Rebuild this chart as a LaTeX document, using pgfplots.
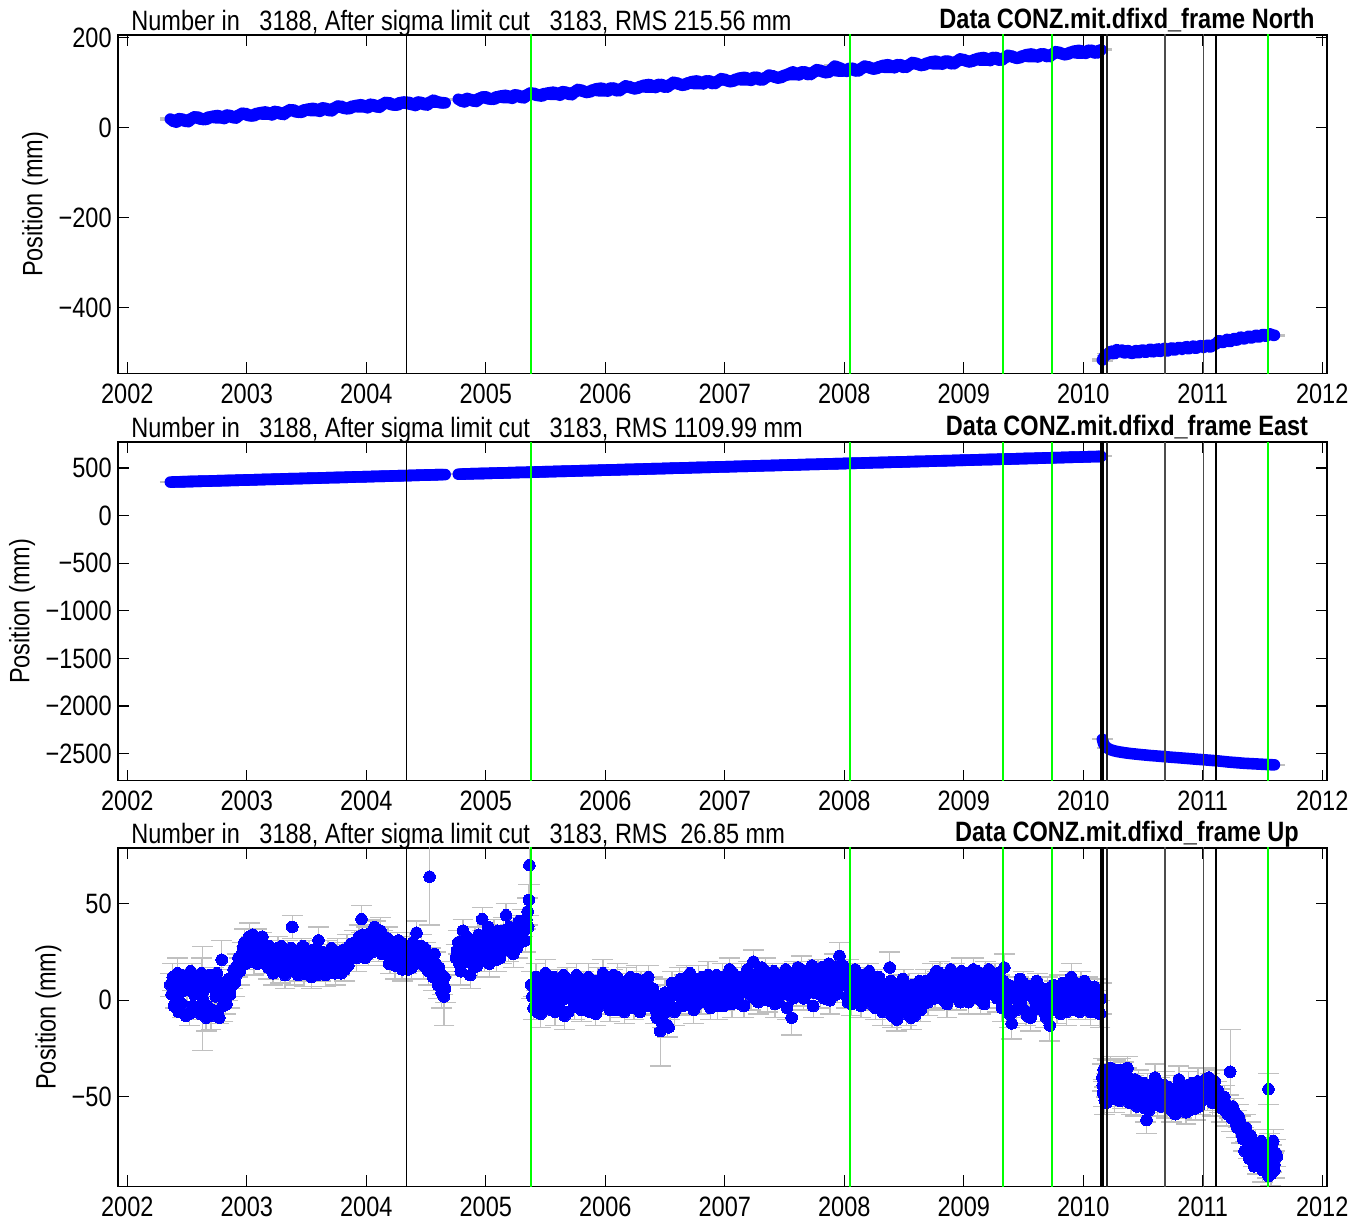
\documentclass[border=0pt]{standalone}
\usepackage{fontspec}
\setmainfont{Liberation Sans}[FakeStretch=0.84]
\usepackage{pgfplots}
\usepackage{pgfplotstable}
\pgfplotsset{compat=1.18}
\definecolor{ebgray}{RGB}{192,192,192}
\definecolor{dotblue}{RGB}{0,0,255}
\definecolor{vgreen}{RGB}{0,255,0}
\newcommand{\fs}{\fontsize{14}{16}\selectfont}

\pgfplotstableread{
t n e
2002.36 19 352
2002.41 12 354
2002.46 19 355
2002.51 13 358
2002.56 24 359
2002.61 19 361
2002.66 18 362
2002.71 25 364
2002.76 27 366
2002.81 20 367
2002.86 27 369
2002.91 21 371
2002.96 32 373
2003.01 27 374
2003.06 26 376
2003.11 33 378
2003.16 35 380
2003.21 28 381
2003.26 35 383
2003.31 29 385
2003.36 40 387
2003.41 35 388
2003.46 34 390
2003.51 41 392
2003.56 43 393
2003.61 36 395
2003.66 43 397
2003.71 37 399
2003.76 48 400
2003.81 43 402
2003.86 42 404
2003.91 49 406
2003.96 51 407
2004.01 44 409
2004.06 51 411
2004.11 45 413
2004.16 56 414
2004.21 51 416
2004.26 50 418
2004.31 57 419
2004.36 56 421
2004.41 49 423
2004.46 56 425
2004.51 50 426
2004.56 61 428
2004.61 56 430
2004.66 55 431
}\NEpreA

\pgfplotstableread{
t n e
2002.385 14 353
2002.435 20 355
2002.485 14 356
2002.535 20 358
2002.585 24 360
2002.635 18 362
2002.685 24 363
2002.735 22 365
2002.785 22 367
2002.835 28 369
2002.885 22 370
2002.935 28 372
2002.985 32 374
2003.035 26 375
2003.085 32 377
2003.135 30 379
2003.185 30 381
2003.235 36 382
2003.285 30 384
2003.335 36 386
2003.385 40 388
2003.435 34 389
2003.485 40 391
2003.535 38 393
2003.585 38 394
2003.635 44 396
2003.685 38 398
2003.735 44 400
2003.785 48 401
2003.835 42 403
2003.885 48 405
2003.935 46 407
2003.985 46 408
2004.035 52 410
2004.085 46 412
2004.135 52 413
2004.185 56 415
2004.235 50 417
2004.285 56 419
2004.335 54 420
2004.385 51 422
2004.435 57 424
2004.485 51 426
2004.535 57 427
2004.585 57 429
2004.635 55 431
}\NEmidA

\pgfplotstableread{
t n e
2004.77 63 435
2004.82 57 437
2004.87 63 439
2004.92 58 441
2004.97 68 442
2005.02 64 444
2005.07 63 446
2005.12 70 447
2005.17 72 449
2005.22 65 451
2005.27 72 453
2005.32 66 454
2005.37 77 456
2005.42 72 458
2005.47 70 459
2005.52 77 461
2005.57 79 463
2005.62 72 465
2005.67 79 466
2005.72 73 468
2005.77 85 470
2005.82 80 472
2005.87 79 473
2005.92 86 475
2005.97 88 477
2006.02 81 479
2006.07 88 480
2006.12 82 482
2006.17 93 484
2006.22 88 486
2006.27 87 487
2006.32 94 489
2006.37 96 491
2006.42 89 493
2006.47 96 494
2006.52 90 496
2006.57 101 498
2006.62 96 499
2006.67 95 501
2006.72 102 503
2006.77 104 505
2006.82 97 506
2006.87 104 508
2006.92 98 510
2006.97 109 512
2007.02 104 513
2007.07 103 515
2007.12 110 517
2007.17 112 518
2007.22 105 520
2007.27 112 522
2007.32 106 524
2007.37 117 525
2007.42 112 527
2007.47 111 529
2007.52 118 531
2007.57 124 532
2007.62 117 534
2007.67 124 536
2007.72 118 538
2007.77 129 539
2007.82 124 541
2007.87 123 543
2007.92 137 544
2007.97 132 546
2008.02 125 548
2008.07 132 550
2008.12 126 551
2008.17 137 553
2008.22 132 555
2008.27 131 557
2008.32 138 558
2008.37 140 560
2008.42 133 562
2008.47 140 563
2008.52 134 565
2008.57 145 567
2008.62 140 569
2008.67 139 570
2008.72 146 572
2008.77 148 574
2008.82 141 576
2008.87 148 577
2008.92 142 579
2008.97 153 581
2009.02 148 582
2009.07 147 584
2009.12 154 586
2009.17 156 588
2009.22 149 589
2009.27 156 591
2009.32 150 593
2009.37 161 595
2009.42 156 596
2009.47 155 598
2009.52 162 600
2009.57 164 601
2009.62 157 603
2009.67 164 605
2009.72 158 607
2009.77 169 608
2009.82 164 610
2009.87 163 612
2009.92 170 614
2009.97 172 615
2010.02 165 617
2010.07 172 619
2010.12 166 620
2010.15 173 622
}\NEpreB

\pgfplotstableread{
t n e
2004.795 59 436
2004.845 65 438
2004.895 59 440
2004.945 65 442
2004.995 69 443
2005.045 63 445
2005.095 69 447
2005.145 67 448
2005.195 67 450
2005.245 73 452
2005.295 67 454
2005.345 73 455
2005.395 77 457
2005.445 72 459
2005.495 76 461
2005.545 74 462
2005.595 74 464
2005.645 80 466
2005.695 74 467
2005.745 80 469
2005.795 84 471
2005.845 78 473
2005.895 84 474
2005.945 82 476
2005.995 82 478
2006.045 88 480
2006.095 82 481
2006.145 88 483
2006.195 92 485
2006.245 86 486
2006.295 92 488
2006.345 90 490
2006.395 90 492
2006.445 96 493
2006.495 90 495
2006.545 96 497
2006.595 100 499
2006.645 94 500
2006.695 100 502
2006.745 98 504
2006.795 98 506
2006.845 104 507
2006.895 98 509
2006.945 104 511
2006.995 108 512
2007.045 102 514
2007.095 108 516
2007.145 106 518
2007.195 106 519
2007.245 112 521
2007.295 106 523
2007.345 112 525
2007.395 116 526
2007.445 110 528
2007.495 116 530
2007.545 118 531
2007.595 118 533
2007.645 124 535
2007.695 118 537
2007.745 124 538
2007.795 128 540
2007.845 122 542
2007.895 128 544
2007.945 126 545
2007.995 126 547
2008.045 132 549
2008.095 126 550
2008.145 132 552
2008.195 136 554
2008.245 130 556
2008.295 136 557
2008.345 134 559
2008.395 134 561
2008.445 140 563
2008.495 134 564
2008.545 140 566
2008.595 144 568
2008.645 138 569
2008.695 144 571
2008.745 142 573
2008.795 142 575
2008.845 148 576
2008.895 142 578
2008.945 148 580
2008.995 152 582
2009.045 146 583
2009.095 152 585
2009.145 150 587
2009.195 150 589
2009.245 156 590
2009.295 150 592
2009.345 156 594
2009.395 160 595
2009.445 154 597
2009.495 160 599
2009.545 158 601
2009.595 158 602
2009.645 164 604
2009.695 158 606
2009.745 164 608
2009.795 168 609
2009.845 162 611
2009.895 168 613
2009.945 166 614
2009.995 166 616
2010.045 172 618
2010.095 166 620
2010.135 172 621
}\NEmidB

\pgfplotstableread{
t n e
2010.160 -517 -2350
2010.170 -512 -2395
2010.185 -506 -2425
2010.200 -505 -2440
2010.220 -500 -2455
2010.235 -497 -2462
2010.250 -502 -2468
2010.265 -503 -2473
2010.280 -494 -2477
2010.295 -499 -2481
2010.310 -498 -2484
2010.325 -495 -2487
2010.340 -501 -2490
2010.355 -501 -2493
2010.370 -496 -2495
2010.385 -497 -2498
2010.400 -502 -2500
2010.415 -502 -2502
2010.430 -497 -2504
2010.445 -496 -2506
2010.460 -501 -2508
2010.475 -500 -2510
2010.490 -495 -2512
2010.505 -495 -2514
2010.520 -500 -2515
2010.535 -499 -2517
2010.550 -494 -2519
2010.565 -493 -2521
2010.580 -499 -2522
2010.595 -498 -2524
2010.610 -494 -2525
2010.625 -492 -2527
2010.640 -498 -2528
2010.655 -497 -2530
2010.670 -492 -2531
2010.685 -491 -2533
2010.700 -497 -2534
2010.715 -496 -2536
2010.730 -491 -2537
2010.745 -490 -2539
2010.760 -495 -2540
2010.775 -494 -2542
2010.790 -490 -2543
2010.805 -489 -2545
2010.820 -493 -2546
2010.835 -493 -2548
2010.850 -489 -2549
2010.865 -487 -2551
2010.880 -492 -2552
2010.895 -491 -2554
2010.910 -487 -2555
2010.925 -486 -2557
2010.940 -491 -2558
2010.955 -490 -2560
2010.970 -486 -2561
2010.985 -485 -2563
2011.000 -489 -2564
2011.015 -489 -2566
2011.030 -485 -2567
2011.045 -484 -2569
2011.060 -488 -2570
2011.075 -487 -2572
2011.090 -483 -2573
2011.105 -482 -2575
2011.120 -479 -2576
2011.135 -474 -2578
2011.150 -475 -2580
2011.165 -478 -2582
2011.180 -477 -2584
2011.195 -472 -2586
2011.210 -471 -2588
2011.225 -476 -2590
2011.240 -475 -2591
2011.255 -470 -2593
2011.270 -469 -2594
2011.285 -473 -2596
2011.300 -471 -2597
2011.315 -466 -2599
2011.330 -467 -2600
2011.345 -470 -2602
2011.360 -469 -2603
2011.375 -465 -2604
2011.390 -464 -2605
2011.405 -468 -2606
2011.420 -467 -2607
2011.435 -463 -2608
2011.450 -462 -2609
2011.465 -466 -2610
2011.480 -465 -2611
2011.495 -461 -2612
2011.510 -460 -2613
2011.525 -464 -2614
2011.540 -463 -2615
2011.555 -459 -2616
2011.570 -459 -2617
2011.585 -462 -2618
2011.600 -462 -2618
}\NEpost

\pgfplotstableread{
t u e
2002.36 8 6
2002.38 12 7
2002.40 2 6
2002.42 14 8
2002.44 4 6
2002.46 -2 7
2002.48 10 6
2002.50 6 9
2002.52 -7 6
2002.54 12 7
2002.56 3 6
2002.58 9 7
2002.60 -4 6
2002.62 14 8
2002.63 1 27
2002.66 -9 7
2002.68 7 6
2002.70 -8 7
2002.72 11 6
2002.74 2 7
2002.76 -6 6
2002.78 9 7
2002.79 21 10
2002.80 -3 8
2002.82 0 7
2002.84 6 6
2002.86 3 7
2002.88 12 6
2002.90 9 7
2002.92 18 6
2002.94 15 7
2002.96 24 6
2002.98 30 7
2003.00 22 6
2003.02 33 7
2003.04 27 6
2003.06 20 7
2003.08 31 6
2003.10 25 7
2003.12 29 6
2003.14 21 7
2003.16 27 6
2003.18 17 6
2003.20 24 7
2003.22 14 6
2003.24 21 7
2003.26 27 6
2003.28 16 7
2003.30 22 6
2003.32 13 7
2003.34 25 6
2003.36 19 7
2003.38 38 6
2003.40 15 7
2003.42 23 6
2003.44 17 7
2003.46 26 6
2003.48 14 7
2003.50 20 6
2003.52 24 7
2003.54 12 6
2003.56 19 7
2003.58 22 6
2003.60 31 7
2003.62 16 6
2003.64 21 7
2003.66 13 6
2003.68 24 7
2003.70 18 6
2003.72 22 7
2003.74 14 6
2003.76 25 7
2003.78 19 6
2003.80 23 7
2003.82 16 6
2003.84 27 7
2003.86 21 6
2003.88 25 7
2003.90 30 6
2003.92 22 7
2003.94 33 6
2003.96 42 7
2003.98 27 6
2004.00 31 7
2004.02 24 6
2004.04 35 7
2004.06 29 6
2004.08 34 7
2004.10 26 6
2004.12 36 7
2004.14 30 6
2004.16 25 7
2004.18 32 6
2004.20 21 7
2004.22 27 6
2004.24 18 7
2004.26 29 6
2004.28 23 7
2004.30 16 6
2004.32 26 7
2004.34 20 6
2004.36 28 7
2004.38 17 6
2004.40 24 7
2004.42 35 6
2004.44 22 7
2004.46 28 6
2004.48 18 7
2004.50 24 6
2004.52 15 7
2004.53 64 25
2004.54 21 6
2004.56 12 7
2004.58 19 6
2004.60 8 7
2004.62 14 6
2004.63 4 8
2004.64 10 7
2004.65 2 15
2004.66 6 7
2004.75 22 7
2004.77 30 6
2004.79 15 7
2004.81 36 6
2004.83 20 7
2004.85 27 6
2004.87 13 7
2004.89 24 6
2004.91 31 7
2004.93 18 6
2004.95 26 7
2004.97 42 6
2004.99 22 7
2005.01 33 6
2005.03 19 7
2005.05 28 6
2005.07 35 7
2005.09 21 6
2005.11 30 7
2005.13 25 6
2005.15 36 7
2005.17 44 6
2005.19 27 7
2005.21 33 6
2005.23 24 7
2005.25 38 6
2005.27 29 7
2005.29 35 6
2005.31 40 7
2005.33 31 6
2005.35 46 7
2005.36 52 8
2005.365 70 10
2005.38 8 7
2005.40 -4 6
2005.42 12 7
2005.44 1 6
2005.46 -7 7
2005.48 6 6
2005.50 14 7
2005.52 -2 6
2005.54 9 7
2005.56 3 6
2005.58 -6 7
2005.60 10 6
2005.62 0 7
2005.64 5 6
2005.66 -8 7
2005.68 11 6
2005.70 2 7
2005.72 7 6
2005.74 -3 7
2005.76 13 6
2005.78 4 7
2005.80 -5 6
2005.82 8 7
2005.84 1 6
2005.86 12 7
2005.88 -2 6
2005.90 6 7
2005.92 -7 6
2005.94 10 7
2005.96 3 6
2005.98 14 7
2006.00 -1 6
2006.02 7 7
2006.04 -5 6
2006.06 9 7
2006.08 2 6
2006.10 12 7
2006.12 -3 6
2006.14 5 7
2006.16 -6 6
2006.18 10 7
2006.20 1 6
2006.22 7 7
2006.24 -4 6
2006.26 11 7
2006.28 3 6
2006.30 8 7
2006.32 -2 6
2006.34 5 7
2006.36 12 6
2006.38 0 7
2006.40 6 6
2006.42 -5 7
2006.44 2 6
2006.46 -16 18
2006.48 -8 6
2006.50 4 7
2006.52 -13 6
2006.54 -3 7
2006.56 9 6
2006.58 -6 7
2006.60 3 6
2006.62 10 7
2006.64 -2 6
2006.66 6 7
2006.68 12 6
2006.70 0 7
2006.72 8 6
2006.74 -5 7
2006.76 4 6
2006.78 11 7
2006.80 -1 6
2006.82 7 7
2006.84 2 6
2006.86 13 7
2006.88 -4 6
2006.90 5 7
2006.92 9 6
2006.94 -3 7
2006.96 6 6
2006.98 12 7
2007.00 1 6
2007.02 8 7
2007.04 16 6
2007.06 -2 7
2007.08 5 6
2007.10 10 7
2007.12 3 6
2007.14 12 7
2007.16 -3 6
2007.18 8 7
2007.20 14 6
2007.22 2 7
2007.24 20 6
2007.26 9 7
2007.28 -1 6
2007.30 11 7
2007.32 5 6
2007.34 15 7
2007.36 0 6
2007.38 8 7
2007.40 13 6
2007.42 -2 7
2007.44 6 6
2007.46 10 7
2007.48 3 6
2007.50 12 7
2007.52 -4 6
2007.54 7 7
2007.56 -9 9
2007.58 14 6
2007.60 4 7
2007.62 9 6
2007.64 16 7
2007.66 1 6
2007.68 10 7
2007.70 5 6
2007.72 13 7
2007.74 -3 6
2007.76 8 7
2007.78 15 6
2007.80 3 7
2007.82 11 6
2007.84 6 7
2007.86 14 6
2007.88 0 7
2007.90 9 6
2007.92 17 7
2007.94 5 6
2007.96 23 7
2007.98 12 6
2008.00 8 7
2008.02 2 6
2008.04 14 7
2008.06 -2 6
2008.08 8 7
2008.10 13 6
2008.12 4 7
2008.14 -3 6
2008.16 10 7
2008.18 6 6
2008.20 12 7
2008.22 1 6
2008.24 7 7
2008.26 -4 6
2008.28 9 7
2008.30 3 6
2008.32 -6 7
2008.34 5 6
2008.36 -1 7
2008.38 17 8
2008.40 -8 6
2008.42 2 7
2008.44 -10 6
2008.46 6 7
2008.48 -3 6
2008.50 9 7
2008.52 -7 6
2008.54 1 7
2008.56 -9 6
2008.58 4 7
2008.60 -2 6
2008.62 7 7
2008.64 -5 6
2008.66 3 7
2008.68 10 6
2008.70 -1 7
2008.72 5 6
2008.74 12 7
2008.76 1 6
2008.78 8 7
2008.80 14 6
2008.82 3 7
2008.84 9 6
2008.86 -2 7
2008.88 11 6
2008.90 6 7
2008.92 13 6
2008.94 2 7
2008.96 9 6
2008.98 15 7
2009.00 4 6
2009.02 10 7
2009.04 -1 6
2009.06 7 7
2009.08 16 6
2009.10 5 7
2009.12 11 6
2009.14 0 7
2009.16 8 7
2009.18 14 6
2009.20 3 7
2009.22 10 6
2009.24 6 7
2009.26 13 6
2009.28 1 7
2009.30 7 6
2009.32 -4 7
2009.34 17 7
2009.36 4 6
2009.38 -7 7
2009.40 -12 8
2009.42 2 6
2009.44 -5 7
2009.46 6 6
2009.48 -2 7
2009.50 9 6
2009.52 -6 7
2009.54 3 6
2009.56 -9 7
2009.58 5 6
2009.60 -1 7
2009.62 8 6
2009.64 -4 7
2009.66 2 6
2009.68 -7 7
2009.70 6 6
2009.72 -13 8
2009.74 0 7
2009.76 4 6
2009.78 -5 7
2009.80 7 6
2009.82 -2 7
2009.84 3 6
2009.86 -6 7
2009.88 9 6
2009.90 12 7
2009.92 -1 6
2009.94 5 7
2009.96 -4 6
2009.98 8 7
2010.00 1 6
2010.02 -3 7
2010.04 6 6
2010.06 -6 7
2010.08 3 6
2010.10 -2 7
2010.12 5 6
2010.14 -7 7
2010.15 1 8
2010.16 -40 7
2010.165 -48 7
2010.17 -36 6
2010.18 -52 7
2010.19 -44 6
2010.20 -38 7
2010.21 -49 6
2010.22 -42 7
2010.23 -35 6
2010.24 -47 7
2010.25 -40 6
2010.26 -51 7
2010.27 -37 6
2010.28 -45 7
2010.29 -41 6
2010.30 -48 7
2010.31 -36 6
2010.32 -43 7
2010.33 -50 6
2010.34 -39 7
2010.35 -46 6
2010.36 -42 7
2010.37 -35 6
2010.38 -48 7
2010.39 -44 6
2010.40 -52 7
2010.42 -45 6
2010.44 -53 7
2010.46 -42 6
2010.48 -50 7
2010.50 -47 6
2010.52 -56 7
2010.53 -62 7
2010.54 -44 6
2010.56 -51 7
2010.58 -48 6
2010.60 -40 7
2010.62 -54 6
2010.64 -47 7
2010.66 -52 6
2010.68 -44 7
2010.70 -55 6
2010.72 -49 7
2010.74 -57 6
2010.76 -46 7
2010.78 -53 6
2010.80 -41 7
2010.82 -55 6
2010.84 -50 7
2010.86 -58 6
2010.88 -44 7
2010.90 -52 6
2010.92 -48 7
2010.94 -56 6
2010.96 -42 7
2010.98 -53 6
2011.00 -47 7
2011.02 -41 6
2011.04 -50 7
2011.06 -44 6
2011.08 -53 7
2011.10 -42 6
2011.12 -49 7
2011.14 -52 6
2011.16 -56 7
2011.18 -50 6
2011.20 -58 7
2011.22 -55 6
2011.23 -37 22
2011.24 -61 7
2011.26 -57 6
2011.28 -64 7
2011.30 -60 6
2011.32 -67 7
2011.34 -72 6
2011.36 -66 7
2011.38 -76 6
2011.40 -70 7
2011.42 -80 6
2011.44 -74 7
2011.46 -84 6
2011.48 -78 7
2011.50 -88 6
2011.52 -81 7
2011.54 -86 6
2011.55 -46 8
2011.56 -76 7
2011.57 -90 6
2011.58 -82 7
2011.59 -73 6
2011.60 -85 7
2011.61 -79 7
}\UpT

\pgfplotstableread{
t u
2002.37 3
2002.39 -3
2002.41 9
2002.43 -6
2002.45 13
2002.47 5
2002.49 -8
2002.51 8
2002.53 15
2002.55 -3
2002.57 6
2002.59 12
2002.61 -7
2002.63 4
2002.65 10
2002.67 -3
2002.69 13
2002.71 -5
2002.73 6
2002.75 14
2002.77 -9
2002.79 4
2002.81 8
2002.83 -2
2002.85 11
2002.87 7
2002.89 16
2002.91 13
2002.93 22
2002.95 19
2002.97 27
2002.99 19
2003.01 28
2003.03 23
2003.05 34
2003.07 24
2003.09 19
2003.11 28
2003.13 33
2003.15 23
2003.17 21
2003.19 28
2003.21 19
2003.23 25
2003.25 15
2003.27 22
2003.29 28
2003.31 19
2003.33 16
2003.35 23
2003.37 27
2003.39 18
2003.41 21
2003.43 13
2003.45 22
2003.47 28
2003.49 18
2003.51 15
2003.53 21
2003.55 26
2003.57 16
2003.59 13
2003.61 20
2003.63 25
2003.65 18
2003.67 22
2003.69 14
2003.71 27
2003.73 20
2003.75 17
2003.77 22
2003.79 14
2003.81 26
2003.83 21
2003.85 18
2003.87 29
2003.89 23
2003.91 26
2003.93 31
2003.95 24
2003.97 34
2003.99 22
2004.01 28
2004.03 33
2004.05 25
2004.07 38
2004.09 31
2004.11 28
2004.13 24
2004.15 33
2004.17 27
2004.19 19
2004.21 30
2004.23 24
2004.25 22
2004.27 31
2004.29 20
2004.31 29
2004.33 23
2004.35 16
2004.37 25
2004.39 30
2004.41 19
2004.43 27
2004.45 23
2004.47 21
2004.49 27
2004.51 19
2004.55 16
2004.57 24
2004.59 13
2004.61 17
2004.63 9
2004.655 12
2004.76 26
2004.78 19
2004.80 28
2004.82 24
2004.84 33
2004.86 21
2004.88 30
2004.90 17
2004.92 27
2004.94 34
2004.96 23
2004.98 29
2005.00 25
2005.02 38
2005.04 24
2005.06 31
2005.08 27
2005.10 36
2005.12 22
2005.14 30
2005.16 34
2005.18 26
2005.20 38
2005.22 29
2005.24 33
2005.26 27
2005.28 41
2005.30 32
2005.32 36
2005.34 42
2005.355 38
2005.39 2
2005.41 9
2005.43 -6
2005.45 5
2005.47 11
2005.49 -1
2005.51 7
2005.53 3
2005.55 -5
2005.57 12
2005.59 4
2005.61 -3
2005.63 8
2005.65 13
2005.67 1
2005.69 -6
2005.71 9
2005.73 4
2005.75 -1
2005.77 6
2005.79 11
2005.81 -4
2005.83 3
2005.85 7
2005.87 -6
2005.89 10
2005.91 2
2005.93 5
2005.95 -3
2005.97 8
2005.99 4
2006.01 11
2006.03 -2
2006.05 3
2006.07 13
2006.09 -5
2006.11 6
2006.13 1
2006.15 9
2006.17 3
2006.19 -4
2006.21 12
2006.23 4
2006.25 -1
2006.27 7
2006.29 -6
2006.31 10
2006.33 2
2006.35 -3
2006.37 7
2006.39 3
2006.41 1
2006.43 -9
2006.45 -3
2006.47 -11
2006.49 1
2006.51 -6
2006.53 -14
2006.55 2
2006.57 -4
2006.59 7
2006.61 4
2006.63 11
2006.65 -3
2006.67 2
2006.69 8
2006.71 14
2006.73 3
2006.75 9
2006.77 -2
2006.79 6
2006.81 12
2006.83 0
2006.85 8
2006.87 4
2006.89 10
2006.91 -1
2006.93 13
2006.95 2
2006.97 7
2006.99 -3
2007.01 11
2007.03 4
2007.05 9
2007.07 14
2007.09 2
2007.11 8
2007.13 -2
2007.15 10
2007.17 5
2007.19 16
2007.21 7
2007.23 11
2007.25 1
2007.27 14
2007.29 6
2007.31 17
2007.33 2
2007.35 9
2007.37 12
2007.39 4
2007.41 15
2007.43 7
2007.45 -1
2007.47 11
2007.49 6
2007.51 16
2007.53 3
2007.55 9
2007.57 1
2007.59 11
2007.61 17
2007.63 5
2007.65 10
2007.67 2
2007.69 14
2007.71 8
2007.73 18
2007.75 4
2007.77 11
2007.79 7
2007.81 17
2007.83 1
2007.85 10
2007.87 19
2007.89 6
2007.91 12
2007.93 3
2007.95 15
2007.97 9
2007.99 18
2008.01 9
2008.03 -1
2008.05 11
2008.07 5
2008.09 16
2008.11 1
2008.13 9
2008.15 13
2008.17 2
2008.19 8
2008.21 15
2008.23 -2
2008.25 10
2008.27 4
2008.29 12
2008.31 1
2008.33 8
2008.35 -4
2008.37 4
2008.39 10
2008.41 -3
2008.43 6
2008.45 -7
2008.47 2
2008.49 11
2008.51 -1
2008.53 5
2008.55 -5
2008.57 8
2008.59 -8
2008.61 1
2008.63 10
2008.65 -2
2008.67 6
2008.69 2
2008.71 10
2008.73 1
2008.75 7
2008.77 15
2008.79 4
2008.81 9
2008.83 0
2008.85 12
2008.87 6
2008.89 16
2008.91 2
2008.93 8
2008.95 12
2008.97 -1
2008.99 10
2009.01 14
2009.03 5
2009.05 12
2009.07 2
2009.09 9
2009.11 15
2009.13 6
2009.15 12
2009.17 -2
2009.19 9
2009.21 16
2009.23 4
2009.25 11
2009.27 7
2009.29 14
2009.31 3
2009.33 10
2009.35 -2
2009.37 8
2009.39 1
2009.41 -6
2009.43 7
2009.45 0
2009.47 11
2009.49 -4
2009.51 4
2009.53 -8
2009.55 7
2009.57 2
2009.59 -5
2009.61 10
2009.63 1
2009.65 -3
2009.67 6
2009.69 -9
2009.71 3
2009.73 -5
2009.75 8
2009.77 -2
2009.79 2
2009.81 -7
2009.83 9
2009.85 1
2009.87 -3
2009.89 5
2009.91 -5
2009.93 9
2009.95 2
2009.97 -6
2009.99 4
2010.01 10
2010.03 -1
2010.05 3
2010.07 -4
2010.09 7
2010.11 -6
2010.13 2
2010.163 -44
2010.175 -39
2010.185 -47
2010.195 -53
2010.205 -41
2010.215 -46
2010.225 -50
2010.235 -43
2010.245 -38
2010.255 -45
2010.265 -42
2010.275 -49
2010.285 -36
2010.295 -44
2010.305 -52
2010.315 -40
2010.325 -46
2010.335 -37
2010.345 -43
2010.355 -51
2010.365 -45
2010.375 -40
2010.385 -53
2010.395 -41
2010.41 -49
2010.43 -41
2010.45 -55
2010.47 -46
2010.49 -53
2010.51 -43
2010.55 -57
2010.57 -45
2010.59 -52
2010.61 -47
2010.63 -43
2010.65 -55
2010.67 -48
2010.69 -51
2010.71 -45
2010.73 -53
2010.75 -50
2010.77 -59
2010.79 -47
2010.81 -52
2010.83 -45
2010.85 -54
2010.87 -49
2010.89 -57
2010.91 -43
2010.93 -51
2010.95 -47
2010.97 -55
2010.99 -44
2011.01 -50
2011.03 -45
2011.05 -40
2011.07 -48
2011.09 -46
2011.11 -52
2011.13 -47
2011.15 -54
2011.17 -50
2011.19 -53
2011.21 -59
2011.25 -55
2011.27 -62
2011.29 -66
2011.31 -63
2011.33 -70
2011.35 -78
2011.37 -71
2011.39 -82
2011.41 -75
2011.43 -86
2011.45 -77
2011.47 -81
2011.49 -73
2011.51 -85
2011.53 -79
2011.55 -91
2011.565 -84
2011.58 -77
2011.60 -88
2011.62 -81
}\UpB

\pgfplotsset{
  panel/.style={
    scale only axis, width=604.5pt, height=169.25pt,
    xmin=2001.922, xmax=2012.04,
    xtick={2002,2003,2004,2005,2006,2007,2008,2009,2010,2011,2012},
    xticklabels={2002,2003,2004,2005,2006,2007,2008,2009,2010,2011,2012},
    axis line style={line width=0.8pt},
    every tick/.style={black, line width=0.6pt},
    major tick length=5.5pt,
    tick align=inside,
    xticklabel style={font=\fs, inner sep=0pt, anchor=north, yshift=-5pt},
    yticklabel style={font=\fs, inner sep=0pt, anchor=east, xshift=-3pt},
    ylabel={Position (mm)},
    ylabel style={font=\fs, inner sep=5pt},
    clip=true, clip marker paths=true,
  },
  ebfix/.style={only marks, mark=*, mark size=0.2pt, mark options={fill=dotblue, draw=none},
    forget plot, each nth point=3,
    error bars/.cd, y dir=both, y fixed=#1,
    error bar style={ebgray, line width=0.7pt},
    error mark options={rotate=90, ebgray, mark size=5.2pt, line width=0.7pt}},
  ebexp/.style={only marks, mark=*, mark size=0.2pt, mark options={fill=dotblue, draw=none},
    forget plot,
    error bars/.cd, y dir=both, y explicit,
    error bar style={ebgray, line width=0.7pt},
    error mark options={rotate=90, ebgray, mark size=5.2pt, line width=0.7pt}},
  dots/.style={only marks, mark=*, mark size=2.9pt, color=dotblue,
    mark options={fill=dotblue, draw=dotblue, line width=0pt}, forget plot},
  band/.style={dotblue, line width=5.8pt, line cap=round, line join=round, mark=none, forget plot},
}
\newcommand{\vl}[3]{\addplot[#2, line width=#3, forget plot] coordinates {(#1,-3000) (#1,3000)};}
\newcommand{\eqlines}{%
  \vl{2004.340}{black}{0.5pt}
  \vl{2005.378}{vgreen}{0.9pt}
  \vl{2008.046}{vgreen}{0.9pt}
  \vl{2009.326}{vgreen}{0.9pt}
  \vl{2009.736}{vgreen}{0.9pt}
  \vl{2010.157}{black}{1.8pt}
  \vl{2010.198}{black!85}{0.6pt}
  \vl{2010.684}{black!70}{0.6pt}
  \vl{2011.004}{black!70}{0.6pt}
  \vl{2011.113}{black}{1.0pt}
  \vl{2011.543}{vgreen}{0.9pt}
}

\begin{document}
\begin{tikzpicture}
\useasboundingbox (-59pt,-594pt) rectangle (618.5pt,17.5pt);

% ---- North ----
\begin{axis}[panel, name=p1, at={(0pt,0pt)}, anchor=north west,
  ymin=-547, ymax=206,
  ytick={-400,-200,0,200}, yticklabels={−400,−200,0,200}]
\addplot[ebfix=2] table[x=t,y=n] {\NEpreA};
\addplot[ebfix=2] table[x=t,y=n] {\NEpreB};
\addplot[ebfix=2] table[x=t,y=n] {\NEpost};
\addplot[band] table[x=t,y=n] {\NEpreA};
\addplot[band] table[x=t,y=n] {\NEmidA};
\addplot[band] table[x=t,y=n] {\NEpreB};
\addplot[band] table[x=t,y=n] {\NEmidB};
\addplot[band] table[x=t,y=n] {\NEpost};
\eqlines
\end{axis}
\node[anchor=base west, inner sep=0pt, font=\fs] at (p1.north west) [xshift=6.5pt, yshift=2.5pt] {Number in\ \ \ 3188, After sigma limit cut\ \ \ 3183, RMS 215.56 mm};
\node[anchor=base, inner sep=0pt, font=\fs\bfseries] at (p1.north west) [xshift=504.5pt, yshift=3.5pt] {Data CONZ.mit.dfixd\_frame North};

% ---- East ----
\begin{axis}[panel, name=p2, at={(0pt,-203.5pt)}, anchor=north west,
  ymin=-2783, ymax=773,
  ytick={-2500,-2000,-1500,-1000,-500,0,500},
  yticklabels={−2500,−2000,−1500,−1000,−500,0,500}]
\addplot[ebfix=3] table[x=t,y=e] {\NEpreA};
\addplot[ebfix=3] table[x=t,y=e] {\NEpreB};
\addplot[ebfix=3] table[x=t,y=e] {\NEpost};
\addplot[band] table[x=t,y=e] {\NEpreA};
\addplot[band] table[x=t,y=e] {\NEmidA};
\addplot[band] table[x=t,y=e] {\NEpreB};
\addplot[band] table[x=t,y=e] {\NEmidB};
\addplot[band] table[x=t,y=e] {\NEpost};
\eqlines
\end{axis}
\node[anchor=base west, inner sep=0pt, font=\fs] at (p2.north west) [xshift=6.5pt, yshift=2.5pt] {Number in\ \ \ 3188, After sigma limit cut\ \ \ 3183, RMS 1109.99 mm};
\node[anchor=base, inner sep=0pt, font=\fs\bfseries] at (p2.north west) [xshift=504.5pt, yshift=3.5pt] {Data CONZ.mit.dfixd\_frame East};

% ---- Up ----
\begin{axis}[panel, name=p3, at={(0pt,-406.5pt)}, anchor=north west,
  ymin=-96.4, ymax=78.9,
  ytick={-50,0,50}, yticklabels={−50,0,50}]
\addplot[ebexp] table[x=t,y=u,y error=e] {\UpT};
\addplot[dots] table[x=t,y=u] {\UpT};
\addplot[dots] table[x=t,y=u] {\UpB};
\eqlines
\end{axis}
\node[anchor=base west, inner sep=0pt, font=\fs] at (p3.north west) [xshift=6.5pt, yshift=2.5pt] {Number in\ \ \ 3188, After sigma limit cut\ \ \ 3183, RMS\ \ 26.85 mm};
\node[anchor=base, inner sep=0pt, font=\fs\bfseries] at (p3.north west) [xshift=504.5pt, yshift=3.5pt] {Data CONZ.mit.dfixd\_frame Up};
\end{tikzpicture}
\end{document}
